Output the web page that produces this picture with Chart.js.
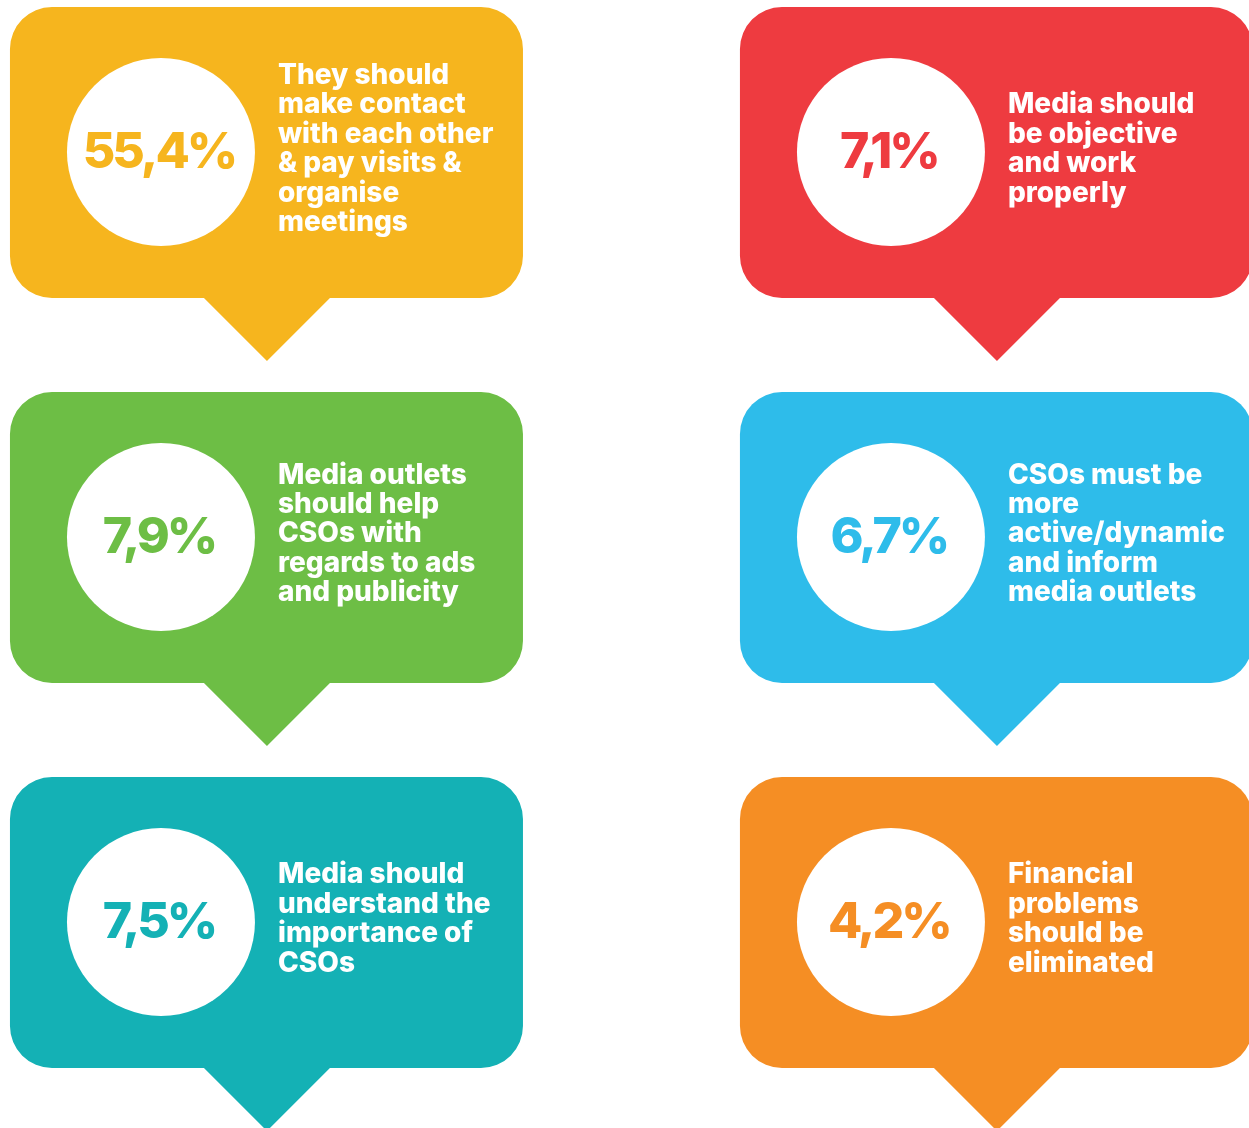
<!DOCTYPE html>
<html>
<head>
<meta charset="utf-8">
<script src="https://cdn.jsdelivr.net/npm/chart.js@4.4.0/dist/chart.umd.min.js"></script>
<style>
  html, body { margin: 0; padding: 0; background: #ffffff; overflow: hidden; }
  #bubbles { display: block; }
</style>
</head>
<body>
<canvas id="bubbles" width="1249" height="1128"></canvas>
<script>
// survey answers, read left to right, top to bottom
var shares = [55.4, 7.1, 7.9, 6.7, 7.5, 4.2]
var shareLabels = ["55,4%", "7,1%", "7,9%", "6,7%", "7,5%", "4,2%"]
var answers = [
  ["They should", "make contact", "with each other", "& pay visits &", "organise", "meetings"],
  ["Media should", "be objective", "and work", "properly"],
  ["Media outlets", "should help", "CSOs with", "regards to ads", "and publicity"],
  ["CSOs must be", "more", "active/dynamic", "and inform", "media outlets"],
  ["Media should", "understand the", "importance of", "CSOs"],
  ["Financial", "problems", "should be", "eliminated"]
]
var columns = [0, 1, 0, 1, 0, 1]
var rows = [0, 0, 1, 1, 2, 2]
var colors = ["#F6B51E", "#EE3B40", "#6DBE45", "#2EBCEA", "#14B1B5", "#F58E24"]

var FONT = "Inter, Lato, sans-serif"

function roundRect(ctx, x, y, w, h, r) {
  ctx.moveTo(x + r, y)
  ctx.lineTo(x + w - r, y)
  ctx.arcTo(x + w, y, x + w, y + r, r)
  ctx.lineTo(x + w, y + h - r)
  ctx.arcTo(x + w, y + h, x + w - r, y + h, r)
  ctx.lineTo(x + r, y + h)
  ctx.arcTo(x, y + h, x, y + h - r, r)
  ctx.lineTo(x, y + r)
  ctx.arcTo(x, y, x + r, y, r)
  ctx.closePath()
}

// speech bubble behind each white circle
var bubblePlugin = {
  id: 'speechBubbles',
  beforeDatasetsDraw: function (chart) {
    var ctx = chart.ctx
    var meta = chart.getDatasetMeta(0)
    ctx.save()
    meta.data.forEach(function (pt, i) {
      var cx = pt.x, cy = pt.y
      ctx.fillStyle = colors[i]
      ctx.beginPath()
      roundRect(ctx, cx - 151, cy - 145, 513, 291, 42)
      ctx.fill()
      ctx.beginPath()
      ctx.moveTo(cx + 42, cy + 145)
      ctx.lineTo(cx + 106, cy + 209)
      ctx.lineTo(cx + 170, cy + 145)
      ctx.closePath()
      ctx.fill()
    })
    ctx.restore()
  },
  afterDatasetsDraw: function (chart) {
    var ctx = chart.ctx
    var meta = chart.getDatasetMeta(0)
    ctx.save()
    meta.data.forEach(function (pt, i) {
      var cx = pt.x, cy = pt.y
      ctx.fillStyle = colors[i]
      ctx.font = "800 50px " + FONT
      ctx.letterSpacing = "-3px"
      ctx.textAlign = "center"
      ctx.textBaseline = "middle"
      ctx.fillText(shareLabels[i], cx - 2, cy + 1)
      ctx.letterSpacing = "0px"

      var lines = answers[i]
      var lh = 29.4
      var top = cy - 3 - (lines.length - 1) * lh / 2
      ctx.fillStyle = "#ffffff"
      ctx.font = "800 28px " + FONT
      ctx.textAlign = "left"
      lines.forEach(function (t, j) {
        ctx.fillText(t, cx + 117, top + j * lh)
      })
    })
    ctx.restore()
  }
}

var ctxB = document.getElementById("bubbles").getContext('2d')
var bubbleChart = new Chart(ctxB, {
  type: 'scatter',
  data: {
    datasets: [{
      label: "Share of answers",
      data: shares.map(function (v, i) { return { x: columns[i], y: rows[i], v: v } }),
      backgroundColor: "#ffffff",
      borderWidth: 0,
      pointRadius: 94,
      pointHoverRadius: 94,
      clip: false
    }]
  },
  options: {
    responsive: false,
    animation: false,
    events: [],
    layout: { padding: 0, autoPadding: false },
    plugins: { legend: { display: false }, tooltip: { enabled: false } },
    scales: {
      x: { type: 'linear', display: false, min: -0.2205, max: 1.4905 },
      y: { type: 'linear', display: false, reverse: true, min: -0.3948, max: 2.5351 }
    }
  },
  plugins: [bubblePlugin]
})
</script>
</body>
</html>
